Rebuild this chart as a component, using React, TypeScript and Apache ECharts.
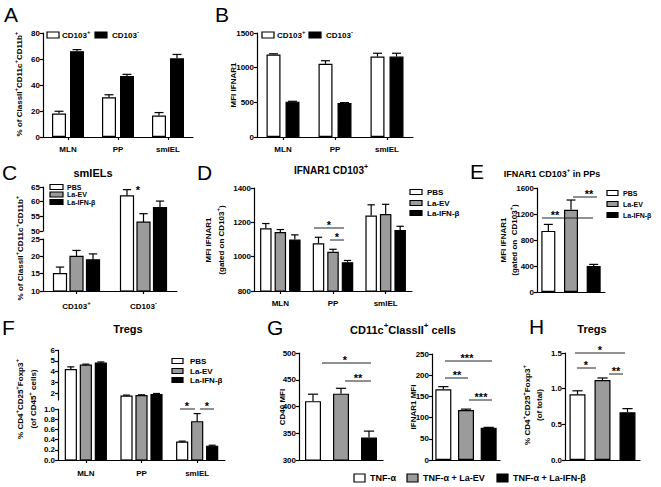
import { useEffect, useRef } from 'react';
import * as echarts from 'echarts';

const FONT = "'Liberation Sans', Arial, Helvetica, sans-serif";
const WHITE = '#ffffff';
const GRAY = '#9b9b9b';
const BLACK = '#000000';
const GROUP_COLORS = [WHITE, GRAY, BLACK];

// ---------------- data ----------------
const regions = ['MLN', 'PP', 'smIEL'];
const subsetCats = ['CD103+', 'CD103-'];
const groupNames = ['PBS', 'La-EV', 'La-IFN-β'];
const treatNames = ['TNF-α', 'TNF-α + La-EV', 'TNF-α + La-IFN-β'];

// A: % of ClassII+CD11c+CD11b+
const aPos = [18, 30.5, 16.5];
const aPosErr = [1.8, 2.0, 2.3];
const aNeg = [66, 47, 60.5];
const aNegErr = [1.2, 1.2, 3.0];
const aYTicks = [0, 20, 40, 60, 80];

// B: MFI IFNAR1
const bPos = [1190, 1055, 1160];
const bPosErr = [10, 45, 48];
const bNeg = [510, 490, 1160];
const bNegErr = [5, 6, 48];
const bYTicks = [0, 500, 1000, 1500];

// C: smIELs (CD103+, CD103-)
const cPBS = [15, 62];
const cPBSErr = [1.9, 2.1];
const cEV = [20, 53];
const cEVErr = [1.7, 2.9];
const cIFN = [19, 58];
const cIFNErr = [1.7, 2.2];
const cTopTicks = [50, 55, 60, 65];
const cBotTicks = [10, 15, 20, 25];

// D: IFNAR1 CD103+
const dPBS = [1165, 1078, 1240];
const dPBSErr = [28, 35, 62];
const dEV = [1143, 1028, 1248];
const dEVErr = [15, 15, 57];
const dIFN = [1100, 968, 1155];
const dIFNErr = [27, 10, 22];
const dYTicks = [800, 1000, 1200, 1400];

// E: IFNAR1 CD103+ in PPs
const eVals = [940, 1265, 400];
const eErr = [100, 150, 25];
const eYTicks = [0, 400, 800, 1200, 1600];

// F: Tregs (% of CD45+)
const fPBS = [4.2, 1.75, 0.35];
const fPBSErr = [0.25, 0.1, 0.02];
const fEV = [4.6, 1.8, 0.75];
const fEVErr = [0.1, 0.08, 0.16];
const fIFN = [4.8, 1.9, 0.27];
const fIFNErr = [0.1, 0.1, 0.02];
const fTopTicks = [2, 3, 4, 5, 6];
const fTopMin = 1.4;
const fBotTicks = [0, 0.2, 0.4, 0.6, 0.8, 1.0];

// G: CD11c+ClassII+ cells
const gCD40 = [410, 424, 342];
const gCD40Err = [13, 10, 12];
const gCD40Ticks = [300, 350, 400, 450, 500];
const gIFNAR = [167, 118, 76];
const gIFNARErr = [6, 2, 1];
const gIFNARTicks = [0, 50, 100, 150, 200, 250];

// H: Tregs (of total)
const hVals = [0.92, 1.12, 0.67];
const hErr = [0.05, 0.03, 0.05];
const hYTicks = [0, 0.5, 1.0, 1.5];

// ---------------- helpers ----------------
const richStyles = (size: number) => ({
  n: {
    fontSize: size, fontWeight: 'bold', fontFamily: FONT, color: '#000', fill: '#000',
    lineHeight: Math.round(size * 1.5), verticalAlign: 'middle',
  },
  s: {
    fontSize: Math.max(5, Math.round(size * 0.72)), fontWeight: 'bold', fontFamily: FONT, color: '#000', fill: '#000',
    lineHeight: Math.round(size * 0.8), verticalAlign: 'top',
  },
});

function richify(str: string): string {
  return str
    .split(/(\^[+\-])/)
    .filter((p) => p.length > 0)
    .map((p) => (p.startsWith('^') ? `{s|${p[1]}}` : `{n|${p}}`))
    .join('');
}

const barOffset = (k: number, n: number, barW: number, gapPx: number) => {
  const total = n * barW + (n - 1) * gapPx;
  return -total / 2 + k * (barW + gapPx) + barW / 2;
};

function buildOption() {
  const grid: any[] = [];
  const xAxis: any[] = [];
  const yAxis: any[] = [];
  const series: any[] = [];
  const els: any[] = [];

  const addGrid = (left: number, top: number, width: number, height: number) => {
    grid.push({ left, top, width, height, containLabel: false, outerBoundsMode: 'none' });
    return grid.length - 1;
  };

  const lineStyle = { color: '#000', width: 1.2 };

  const xCat = (g: number, data: string[], opts: any = {}) => ({
    type: 'category', gridIndex: g, data,
    axisLine: { show: true, onZero: false, lineStyle },
    axisTick: { show: opts.ticks !== false, alignWithLabel: true, length: 3, lineStyle },
    axisLabel: {
      show: opts.labels !== false, interval: 0, color: '#000', fontSize: 8, fontWeight: 'bold',
      fontFamily: FONT, margin: opts.margin ?? 8, formatter: opts.formatter, rich: opts.formatter ? richStyles(8) : undefined,
    },
    splitLine: { show: false },
  });
  const xHidden = (g: number, data: string[]) => ({ type: 'category', gridIndex: g, data, show: false });

  const yVal = (g: number, ticks: number[], opts: any = {}) => {
    const ax: any = {
      type: 'value', gridIndex: g,
      min: opts.min ?? ticks[0], max: ticks[ticks.length - 1],
      axisLine: { show: true, onZero: false, lineStyle },
      axisTick: { show: true, length: 3, lineStyle },
      axisLabel: {
        show: true, color: '#000', fontSize: 8, fontWeight: 'bold', fontFamily: FONT, margin: 3,
        formatter: opts.fmt ?? ((v: number) => String(v)),
      },
      splitLine: { show: false },
    };
    if (opts.custom) {
      ax.axisTick.customValues = ticks;
      ax.axisLabel.customValues = ticks;
    } else {
      ax.interval = ticks[1] - ticks[0];
    }
    return ax;
  };
  const yHidden = (g: number, min: number, max: number) => ({ type: 'value', gridIndex: g, min, max, show: false });

  const bar = (g: number, data: any[], color: string, barW: number, gapPx: number) => ({
    type: 'bar', xAxisIndex: g, yAxisIndex: g, data, barWidth: barW,
    barGap: `${(gapPx / barW) * 100}%`, clip: true, silent: true,
    itemStyle: { color, borderColor: '#000', borderWidth: 1.2 },
  });

  // bar drawn piecewise for broken axes: only the part of the bar between lo and hi of this segment,
  // with the top edge only where the bar ends inside the segment
  const segBar = (
    g: number, vals: number[], k: number, n: number, barW: number, gapPx: number, color: string,
    lo: number, hi: number, bottomEdge: boolean,
  ) => ({
    type: 'custom', xAxisIndex: g, yAxisIndex: g, silent: true, z: 2,
    data: vals.map((v, i) => [i, v]).filter((d) => d[1] > lo),
    renderItem: (_p: any, api: any) => {
      const c = api.value(0);
      const v = api.value(1);
      const top = Math.min(v, hi);
      const pB = api.coord([c, lo]);
      const pT = api.coord([c, top]);
      const xl = pB[0] + barOffset(k, n, barW, gapPx) - barW / 2;
      const xr = xl + barW;
      const yb = pB[1];
      const yt = pT[1];
      const st = { stroke: '#000', lineWidth: 1.2, fill: 'none' };
      const children: any[] = [
        { type: 'rect', shape: { x: xl, y: yt, width: barW, height: yb - yt }, style: { fill: color } },
      ];
      if (v <= hi) {
        children.push({ type: 'polyline', shape: { points: [[xl, yb], [xl, yt], [xr, yt], [xr, yb]] }, style: st });
      } else {
        children.push({ type: 'line', shape: { x1: xl, y1: yb, x2: xl, y2: yt }, style: st });
        children.push({ type: 'line', shape: { x1: xr, y1: yb, x2: xr, y2: yt }, style: st });
      }
      if (bottomEdge) {
        children.push({ type: 'line', shape: { x1: xl, y1: yb, x2: xr, y2: yb }, style: st });
      }
      return { type: 'group', children };
    },
  });

  const errs = (
    g: number, vals: number[], errv: number[], k: number, n: number, barW: number, gapPx: number,
    keep: (v: number) => boolean = () => true,
  ) => ({
    type: 'custom', xAxisIndex: g, yAxisIndex: g, silent: true, z: 5,
    data: vals.map((v, i) => [i, v, errv[i]]).filter((d) => keep(d[1])),
    renderItem: (_p: any, api: any) => {
      const c = api.value(0);
      const v = api.value(1);
      const e = api.value(2);
      const p0 = api.coord([c, v]);
      const p1 = api.coord([c, v + e]);
      const x = p0[0] + barOffset(k, n, barW, gapPx);
      const cw = barW * 0.32;
      const st = { stroke: '#000', lineWidth: 1.2 };
      return {
        type: 'group',
        children: [
          { type: 'line', shape: { x1: x, y1: p0[1], x2: x, y2: p1[1] }, style: st },
          { type: 'line', shape: { x1: x - cw, y1: p1[1], x2: x + cw, y2: p1[1] }, style: st },
        ],
      };
    },
  });

  const text = (x: number, y: number, str: string, size: number, opts: any = {}) => {
    els.push({
      type: 'text', x, y, z: 100, silent: true,
      rotation: opts.rotate ? Math.PI / 2 : 0,
      style: {
        text: richify(str), rich: richStyles(size),
        fontSize: size, fontWeight: 'bold', fontFamily: FONT, fill: '#000',
        align: opts.align ?? 'center', verticalAlign: 'middle',
        textAlign: opts.align ?? 'center', textVerticalAlign: 'middle',
      },
    });
  };
  const plain = (x: number, y: number, str: string, size: number, weight = 'bold', align = 'center') => {
    els.push({
      type: 'text', x, y, z: 100, silent: true,
      style: {
        text: str, fontSize: size, fontWeight: weight, fontFamily: FONT, fill: '#000',
        align, verticalAlign: 'middle', textAlign: align, textVerticalAlign: 'middle',
      },
    });
  };
  const letter = (x: number, y: number, ch: string) => plain(x, y, ch, 21, 'normal', 'left');
  const box = (x: number, yc: number, w: number, h: number, fill: string) => {
    els.push({
      type: 'rect', z: 100, silent: true, shape: { x, y: yc - h / 2, width: w, height: h },
      style: { fill, stroke: '#000', lineWidth: 1.2 },
    });
  };
  const legendCol = (x: number, ys: number[], w: number, h: number, tx: number, size: number) => {
    groupNames.forEach((nm, i) => {
      box(x, ys[i], w, h, GROUP_COLORS[i]);
      text(tx, ys[i], nm, size, { align: 'left' });
    });
  };
  const sig = (x1: number, x2: number, y: number, label: string, tx: number) => {
    els.push({
      type: 'line', z: 100, silent: true, shape: { x1, y1: y, x2, y2: y },
      style: { stroke: '#222', lineWidth: 1 },
    });
    plain(tx, y - 3, label, 11);
  };

  // ---------- A ----------
  {
    const g = addGrid(43, 33, 150, 104);
    xAxis.push(xCat(g, regions));
    yAxis.push(yVal(g, aYTicks));
    series.push(bar(g, aPos, WHITE, 14, 4), bar(g, aNeg, BLACK, 14, 4));
    series.push(errs(g, aPos, aPosErr, 0, 2, 14, 4), errs(g, aNeg, aNegErr, 1, 2, 14, 4));
    letter(4, 14, 'A');
    text(19, 84, '% of ClassII^+CD11c^+CD11b^+', 8, { rotate: true });
    box(47, 35, 12, 6, WHITE);
    text(62, 35, 'CD103^+', 8, { align: 'left' });
    box(95, 35, 12, 6, BLACK);
    text(112, 35, 'CD103^-', 8, { align: 'left' });
  }
  // ---------- B ----------
  {
    const g = addGrid(257, 33, 156, 104);
    xAxis.push(xCat(g, regions));
    yAxis.push(yVal(g, bYTicks));
    series.push(bar(g, bPos, WHITE, 14, 5), bar(g, bNeg, BLACK, 14, 5));
    series.push(errs(g, bPos, bPosErr, 0, 2, 14, 5), errs(g, bNeg, bNegErr, 1, 2, 14, 5));
    letter(215, 14, 'B');
    text(233, 85, 'MFI IFNAR1', 8, { rotate: true });
    box(262, 35, 12, 6, WHITE);
    text(277, 35, 'CD103^+', 8, { align: 'left' });
    box(309, 35, 12, 6, BLACK);
    text(326, 35, 'CD103^-', 8, { align: 'left' });
  }
  // ---------- C (broken axis) ----------
  {
    const cSeries = [cPBS, cEV, cIFN];
    const cErrs = [cPBSErr, cEVErr, cIFNErr];
    const W = 13, GP = 3.5;
    const botMax = cBotTicks[cBotTicks.length - 1];
    const topMax = cTopTicks[cTopTicks.length - 1];
    const gt = addGrid(43, 187, 134, 44);
    xAxis.push(xHidden(gt, subsetCats));
    yAxis.push(yVal(gt, cTopTicks));
    const gg = addGrid(43, 231, 134, 8);
    xAxis.push(xHidden(gg, subsetCats));
    yAxis.push(yHidden(gg, botMax, cTopTicks[0]));
    const gb = addGrid(43, 239, 134, 52);
    xAxis.push(xCat(gb, subsetCats, { margin: 9, formatter: (v: string) => `{n|${v.slice(0, -1)}}{s|${v.slice(-1)}}` }));
    yAxis.push(yVal(gb, cBotTicks));
    cSeries.forEach((d, k) => {
      series.push(segBar(gt, d, k, 3, W, GP, GROUP_COLORS[k], cTopTicks[0], topMax, false));
      series.push(segBar(gg, d, k, 3, W, GP, GROUP_COLORS[k], botMax, cTopTicks[0], false));
      series.push(segBar(gb, d, k, 3, W, GP, GROUP_COLORS[k], cBotTicks[0], botMax, true));
    });
    cSeries.forEach((d, k) => {
      series.push(errs(gt, d, cErrs[k], k, 3, W, GP, (v) => v >= cTopTicks[0]));
      series.push(errs(gb, d, cErrs[k], k, 3, W, GP, (v) => v <= botMax));
    });
    letter(2, 172, 'C');
    text(93, 173, 'smIELs', 11);
    text(20, 248, '% of ClassII^+CD11c^+CD11b^+', 8, { rotate: true });
    legendCol(50, [187, 194.5, 202], 13, 5, 67, 7);
    plain(138, 190, '*', 11);
  }
  // ---------- D ----------
  {
    const dSeries = [dPBS, dEV, dIFN];
    const dErrs = [dPBSErr, dEVErr, dIFNErr];
    const W = 11.5, GP = 3;
    const g = addGrid(254, 188, 158, 103);
    xAxis.push(xCat(g, regions));
    yAxis.push(yVal(g, dYTicks));
    dSeries.forEach((d, k) => series.push(bar(g, d, GROUP_COLORS[k], W, GP)));
    dSeries.forEach((d, k) => series.push(errs(g, d, dErrs[k], k, 3, W, GP)));
    letter(197, 172, 'D');
    text(331, 170, 'IFNAR1 CD103^+', 10);
    text(208, 240, 'MFI IFNAR1', 8, { rotate: true });
    text(221, 240, '(gated on CD103^+)', 8, { rotate: true });
    legendCol(410, [192, 203, 213], 12, 5, 427, 8);
    sig(314, 344, 228, '*', 329);
    sig(330, 344, 240, '*', 337);
  }
  // ---------- E ----------
  {
    const g = addGrid(537, 188, 68, 104);
    xAxis.push(xCat(g, groupNames, { labels: false, ticks: false }));
    yAxis.push(yVal(g, eYTicks));
    series.push(bar(g, eVals.map((v, i) => ({ value: v, itemStyle: { color: GROUP_COLORS[i] } })), WHITE, 14, 0));
    series.push(errs(g, eVals, eErr, 0, 1, 14, 0));
    letter(470, 171, 'E');
    text(552, 174, 'IFNAR1 CD103^+ in PPs', 9);
    text(503, 240, 'MFI IFNAR1', 8, { rotate: true });
    text(514, 240, '(gated on  CD103^+)', 8, { rotate: true });
    legendCol(607, [193, 204, 215], 11, 5, 623, 7);
    sig(542, 593, 218, '**', 555);
    sig(573, 597, 197, '**', 589);
  }
  // ---------- F (broken axis) ----------
  {
    const fSeries = [fPBS, fEV, fIFN];
    const fErrs = [fPBSErr, fEVErr, fIFNErr];
    const W = 11, GP = 4;
    const botMax = fBotTicks[fBotTicks.length - 1];
    const topMax = fTopTicks[fTopTicks.length - 1];
    const gt = addGrid(58, 350, 167, 50);
    xAxis.push(xHidden(gt, regions));
    yAxis.push(yVal(gt, fTopTicks, { min: fTopMin, custom: true }));
    const gg = addGrid(58, 400, 167, 9);
    xAxis.push(xHidden(gg, regions));
    yAxis.push(yHidden(gg, botMax, fTopMin));
    const gb = addGrid(58, 409, 167, 51);
    xAxis.push(xCat(gb, regions, { margin: 9 }));
    yAxis.push(yVal(gb, fBotTicks, { fmt: (v: number) => v.toFixed(1) }));
    fSeries.forEach((d, k) => {
      series.push(segBar(gt, d, k, 3, W, GP, GROUP_COLORS[k], fTopMin, topMax, false));
      series.push(segBar(gg, d, k, 3, W, GP, GROUP_COLORS[k], botMax, fTopMin, false));
      series.push(segBar(gb, d, k, 3, W, GP, GROUP_COLORS[k], fBotTicks[0], botMax, true));
    });
    fSeries.forEach((d, k) => {
      series.push(errs(gt, d, fErrs[k], k, 3, W, GP, (v) => v >= fTopMin));
      series.push(errs(gb, d, fErrs[k], k, 3, W, GP, (v) => v <= botMax));
    });
    letter(2, 327, 'F');
    text(128, 329, 'Tregs', 11);
    text(20, 399, '% CD4^+CD25^+Foxp3^+', 8, { rotate: true });
    text(33, 399, '(of CD45^+ cells)', 8, { rotate: true });
    legendCol(172, [361, 371, 380], 11, 5, 190, 8);
    sig(180, 195, 409, '*', 187);
    sig(200, 214, 409, '*', 207);
  }
  // ---------- G ----------
  {
    const g1 = addGrid(299, 353, 84, 107);
    xAxis.push(xCat(g1, treatNames, { labels: false, ticks: false }));
    yAxis.push(yVal(g1, gCD40Ticks));
    series.push(bar(g1, gCD40.map((v, i) => ({ value: v, itemStyle: { color: GROUP_COLORS[i] } })), WHITE, 16, 0));
    series.push(errs(g1, gCD40, gCD40Err, 0, 1, 16, 0));
    const g2 = addGrid(432, 354, 68, 106);
    xAxis.push(xCat(g2, treatNames, { labels: false, ticks: false }));
    yAxis.push(yVal(g2, gIFNARTicks));
    series.push(bar(g2, gIFNAR.map((v, i) => ({ value: v, itemStyle: { color: GROUP_COLORS[i] } })), WHITE, 16, 0));
    series.push(errs(g2, gIFNAR, gIFNARErr, 0, 1, 16, 0));
    letter(267, 327, 'G');
    text(403, 330, 'CD11c^+ClassII^+ cells', 11);
    text(282, 407, 'CD40 MFI', 8, { rotate: true });
    text(413, 407, 'IFNAR1 MFI', 8, { rotate: true });
    sig(322, 371, 363, '*', 345);
    sig(345, 371, 381, '**', 358);
    sig(445, 492, 361, '***', 467);
    sig(445, 468, 378, '**', 457);
    sig(469, 492, 400, '***', 481);
  }
  // ---------- H ----------
  {
    const g = addGrid(565, 353, 75, 107);
    xAxis.push(xCat(g, treatNames, { labels: false, ticks: false }));
    yAxis.push(yVal(g, hYTicks, { fmt: (v: number) => v.toFixed(1) }));
    series.push(bar(g, hVals.map((v, i) => ({ value: v, itemStyle: { color: GROUP_COLORS[i] } })), WHITE, 16, 0));
    series.push(errs(g, hVals, hErr, 0, 1, 16, 0));
    letter(529, 326, 'H');
    text(592, 329, 'Tregs', 11);
    text(527, 405, '% CD4^+CD25^+Foxp3^+', 8, { rotate: true });
    text(539, 405, '(of total)', 8, { rotate: true });
    sig(575, 625, 353, '*', 600);
    sig(577, 596, 368, '*', 586);
    sig(609, 623, 374, '**', 616);
  }
  // ---------- bottom legend ----------
  {
    const xs = [354, 407, 497];
    const txs = [370, 423, 513];
    treatNames.forEach((nm, i) => {
      box(xs[i], 478, 11, 8, GROUP_COLORS[i]);
      text(txs[i], 478, nm, 9, { align: 'left' });
    });
  }

  return {
    animation: false,
    backgroundColor: '#ffffff',
    grid, xAxis, yAxis, series,
    graphic: { elements: els },
  };
}

export default function App() {
  const ref = useRef<HTMLDivElement>(null);
  useEffect(() => {
    document.body.style.margin = '0';
    const chart = echarts.init(ref.current as HTMLDivElement, null, { renderer: 'svg' });
    chart.setOption(buildOption() as any);
    return () => chart.dispose();
  }, []);
  return <div ref={ref} style={{ width: 661, height: 487 }} />;
}
